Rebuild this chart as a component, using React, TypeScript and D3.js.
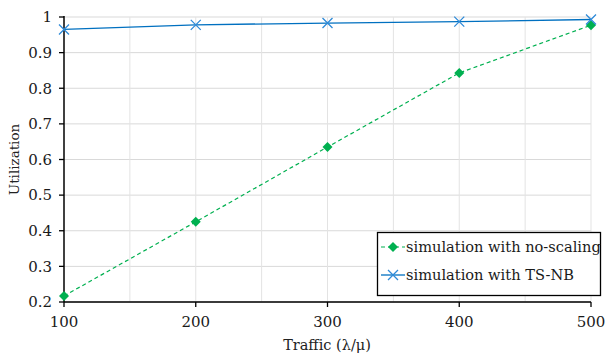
import React from "react";
import * as d3 from "d3";

const traffic = [100, 200, 300, 400, 500];
const noScaling = [0.217, 0.425, 0.635, 0.843, 0.977];
const tsNb = [0.965, 0.978, 0.983, 0.987, 0.993];
const yTicks = [0.2, 0.3, 0.4, 0.5, 0.6, 0.7, 0.8, 0.9, 1];
const xTicks = [100, 200, 300, 400, 500];
const xGrid = [150, 200, 250, 300, 350, 400, 450, 500];

const W = 606;
const H = 355;
const FONT = "'DejaVu Serif', serif";

export default function App() {
  const x = d3.scaleLinear().domain([100, 500]).range([64, 591]);
  const y = d3.scaleLinear().domain([0.2, 1]).range([302, 17]);

  const line = d3
    .line<number>()
    .x((_, i) => x(traffic[i]))
    .y((d) => y(d));

  const green = "#00b050";
  const blue = "#0070c0";
  const cross = "#2e8ad8";

  const diamond = (cx: number, cy: number, key: string) => (
    <path
      key={key}
      d={`M${cx},${cy - 5}L${cx + 5},${cy}L${cx},${cy + 5}L${cx - 5},${cy}Z`}
      fill={green}
    />
  );
  const xMark = (cx: number, cy: number, key: string) => (
    <path
      key={key}
      d={`M${cx - 5},${cy - 5}L${cx + 5},${cy + 5}M${cx - 5},${cy + 5}L${cx + 5},${cy - 5}`}
      stroke={cross}
      strokeWidth={1.3}
      fill="none"
    />
  );

  return (
    <svg
      width={W}
      height={H}
      style={{ position: "absolute", left: 0, top: 0, background: "#fff" }}
      fontFamily={FONT}
    >
      {/* grid */}
      {yTicks.map((t) => (
        <line key={"gy" + t} x1={64} x2={591} y1={y(t)} y2={y(t)} stroke="#d9d9d9" strokeWidth={1} />
      ))}
      {xGrid.map((t) => (
        <line key={"gx" + t} x1={x(t)} x2={x(t)} y1={17} y2={302} stroke="#e3e3e3" strokeWidth={1} />
      ))}

      {/* axes */}
      <line x1={64} x2={64} y1={16} y2={302} stroke="#000" strokeWidth={1.5} />
      <line x1={64} x2={591} y1={302} y2={302} stroke="#000" strokeWidth={1.5} />
      {yTicks.map((t) => (
        <g key={"yt" + t}>
          <line x1={59} x2={64} y1={y(t)} y2={y(t)} stroke="#000" strokeWidth={1.3} />
          <text x={52} y={y(t)} dy="0.35em" textAnchor="end" fontSize={15} fill="#1a1a1a">
            {String(t)}
          </text>
        </g>
      ))}
      {xTicks.map((t) => (
        <g key={"xt" + t}>
          <line x1={x(t)} x2={x(t)} y1={302} y2={307} stroke="#000" strokeWidth={1.3} />
          <text x={x(t)} y={327} textAnchor="middle" fontSize={15} fill="#1a1a1a">
            {t}
          </text>
        </g>
      ))}

      <text x={327} y={350} textAnchor="middle" fontSize={14.5} fill="#222">
        Traffic (λ/μ)
      </text>
      <text
        transform={`translate(19,${y(0.6)}) rotate(-90)`}
        textAnchor="middle"
        fontSize={13.5}
        fill="#222"
      >
        Utilization
      </text>

      {/* series */}
      <path d={line(noScaling) ?? ""} fill="none" stroke={green} strokeWidth={1.2} strokeDasharray="4,3" />
      {noScaling.map((v, i) => diamond(x(traffic[i]), y(v), "d" + i))}
      <path d={line(tsNb) ?? ""} fill="none" stroke={blue} strokeWidth={1.3} />
      {tsNb.map((v, i) => xMark(x(traffic[i]), y(v), "x" + i))}

      {/* legend */}
      <g>
        <rect x={377.5} y={232.5} width={223} height={63} fill="#fff" stroke="#000" strokeWidth={1.3} />
        <line x1={381} x2={405} y1={247} y2={247} stroke={green} strokeWidth={1.2} strokeDasharray="4,3" />
        {diamond(393, 247, "ld")}
        <text x={406} y={247} dy="0.35em" fontSize={14.6} fill="#1a1a1a">
          simulation with no-scaling
        </text>
        <line x1={381} x2={405} y1={275} y2={275} stroke={blue} strokeWidth={1.3} />
        {xMark(393, 275, "lx")}
        <text x={406} y={275} dy="0.35em" fontSize={14.6} fill="#1a1a1a">
          simulation with TS-NB
        </text>
      </g>
    </svg>
  );
}
